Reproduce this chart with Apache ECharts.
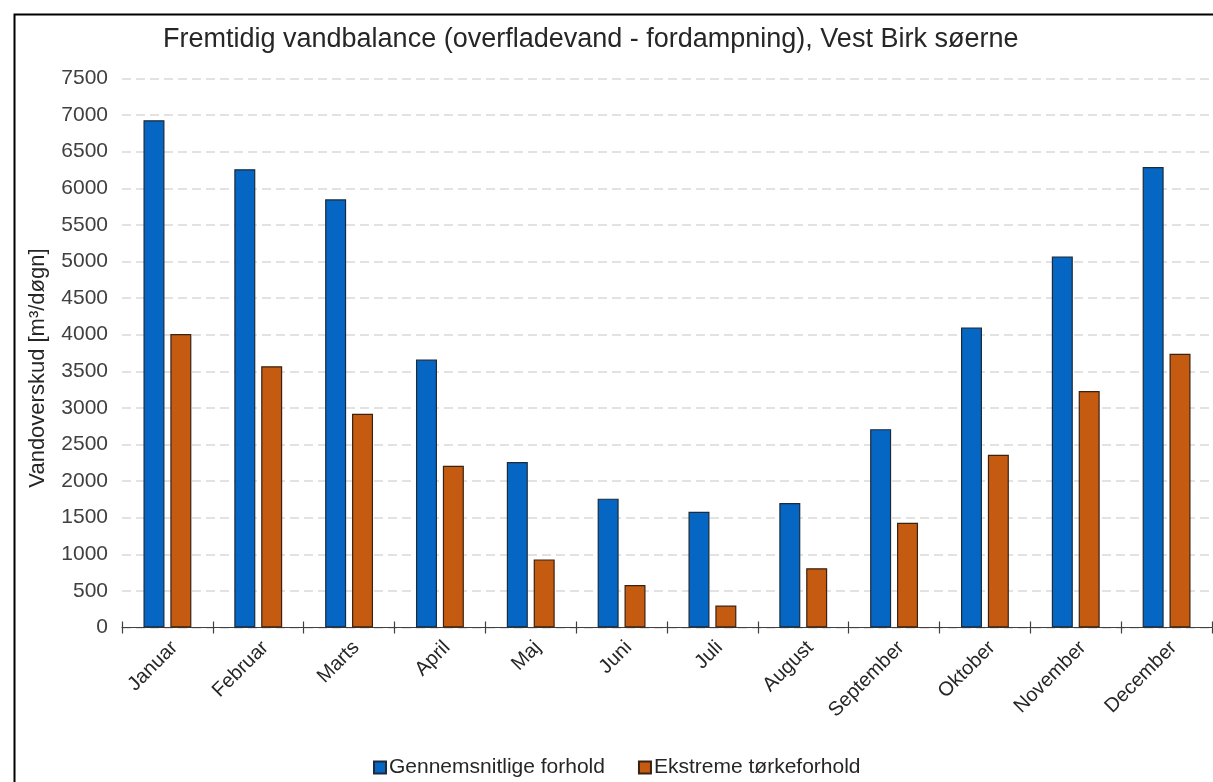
<!DOCTYPE html>
<html>
<head>
<meta charset="utf-8">
<script src="https://cdn.jsdelivr.net/npm/echarts@6/dist/echarts.min.js"></script>
<style>
html,body{margin:0;padding:0;background:#fff;}
#chart{width:1213px;height:782px;}
</style>
</head>
<body>
<div id="chart"></div>
<script>
const titleText = 'Fremtidig vandbalance (overfladevand - fordampning), Vest Birk søerne';
const yAxisName = 'Vandoverskud [m³/døgn]';
const months = ['Januar','Februar','Marts','April','Maj','Juni','Juli','August','September','Oktober','November','December'];
const seriesNames = ['Gennemsnitlige forhold','Ekstreme tørkeforhold'];
const avgValues = [6930, 6260, 5850, 3660, 2260, 1760, 1580, 1700, 2710, 4100, 5070, 6290];
const droughtValues = [4010, 3570, 2920, 2210, 930, 580, 300, 810, 1430, 2360, 3230, 3740];

const FONT = '"Liberation Sans", Arial, sans-serif';
const chart = echarts.init(document.getElementById('chart'), null, {renderer:'canvas'});
chart.setOption({
  animation:false,
  backgroundColor:'#fff',
  title:{
    text:titleText, left:158, top:21,
    textStyle:{fontFamily:FONT, fontSize:27, fontWeight:'normal', color:'#262626'}
  },
  legend:{
    bottom:-1, left:368, icon:'rect', itemWidth:12, itemHeight:12, itemGap:33,
    textStyle:{fontFamily:FONT, fontSize:21, color:'#262626', padding:[0,0,0,-2]},
    data:seriesNames
  },
  grid:{left:122, right:1, top:78.5, bottom:154.5, containLabel:false},
  xAxis:[{
    type:'category', data:months,
    axisLine:{lineStyle:{color:'#404040', width:1.2}},
    axisTick:{show:true, length:6, lineStyle:{color:'#404040', width:1.2}},
    axisLabel:{rotate:45, fontFamily:FONT, fontSize:20, color:'#262626', margin:10, interval:0,
               align:'right', verticalAlign:'top'},
    splitLine:{show:false}
  },{
    type:'category', data:months, position:'bottom',
    axisLine:{show:false},
    axisTick:{show:true, inside:true, length:6, lineStyle:{color:'#404040', width:1.2}},
    axisLabel:{show:false}
  }],
  yAxis:{
    type:'value', min:0, max:7500, interval:500,
    name:yAxisName, nameLocation:'middle', nameGap:73, nameRotate:90,
    nameTextStyle:{fontFamily:FONT, fontSize:22, color:'#262626', padding:[0,30,0,0]},
    axisLine:{show:false}, axisTick:{show:false},
    axisLabel:{fontFamily:FONT, fontSize:21, color:'#404040', margin:14, formatter:function(v){return String(v);}},
    splitLine:{lineStyle:{color:'#d9d9d9', type:[9,5], width:1.5}}
  },
  series:[
    {name:seriesNames[0], type:'bar', data:avgValues, barWidth:21, barGap:'28%',
     itemStyle:{color:'#0567c3', borderColor:'#1c2a3a', borderWidth:1.2}},
    {name:seriesNames[1], type:'bar', data:droughtValues, barWidth:21,
     itemStyle:{color:'#c55a11', borderColor:'#3a2212', borderWidth:1.2}}
  ],
  graphic:[{
    type:'rect', left:12, top:12, shape:{x:0,y:0,width:1300,height:900},
    style:{fill:null, stroke:'#000', lineWidth:2}, silent:true, z:-1
  }]
});
</script>
</body>
</html>
